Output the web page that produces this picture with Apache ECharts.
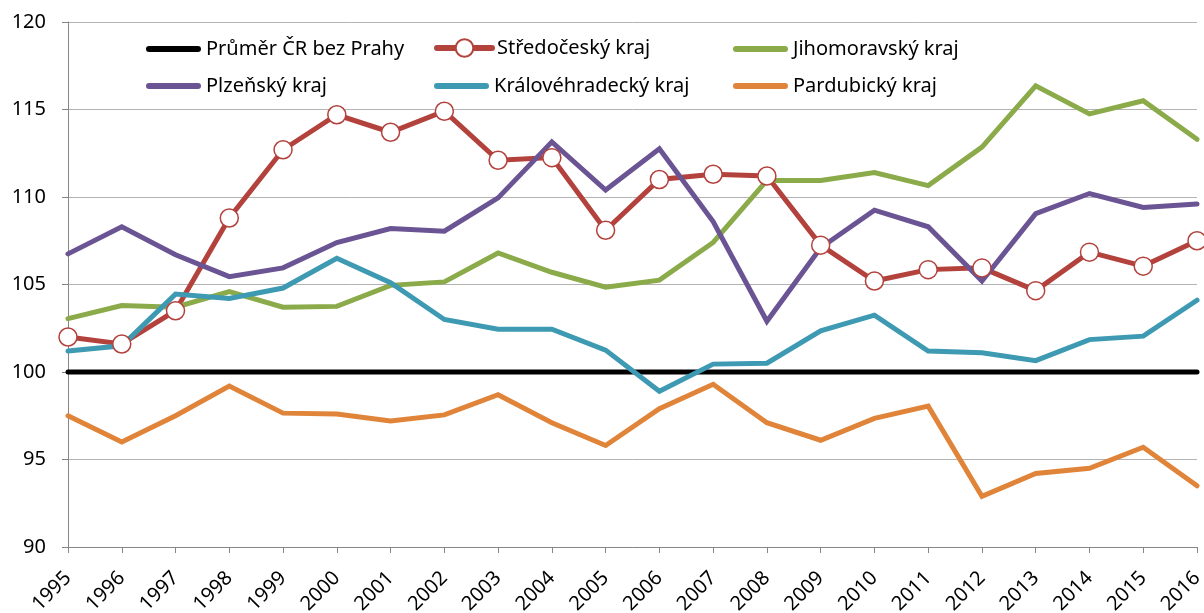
<!DOCTYPE html>
<html>
<head>
<meta charset="utf-8">
<script src="https://cdn.jsdelivr.net/npm/echarts@6/dist/echarts.min.js"></script>
<style>
html,body{margin:0;padding:0;background:#fff;}
#chart{width:1204px;height:613px;}
</style>
</head>
<body>
<div id="chart"></div>
<script>
const years = ['1995','1996','1997','1998','1999','2000','2001','2002','2003','2004','2005','2006','2007','2008','2009','2010','2011','2012','2013','2014','2015','2016'];
const yTicks = [90, 95, 100, 105, 110, 115, 120];

const prumer = [100,100,100,100,100,100,100,100,100,100,100,100,100,100,100,100,100,100,100,100,100,100];
const stredocesky = [102.0,101.6,103.5,108.8,112.7,114.7,113.7,114.9,112.1,112.25,108.1,111.0,111.3,111.2,107.25,105.2,105.85,105.95,104.65,106.85,106.05,107.5];
const jihomoravsky = [103.05,103.8,103.7,104.6,103.7,103.75,104.95,105.15,106.8,105.7,104.85,105.25,107.4,110.95,110.95,111.4,110.65,112.85,116.35,114.75,115.5,113.3];
const plzensky = [106.75,108.3,106.7,105.45,105.95,107.4,108.2,108.05,109.95,113.15,110.4,112.75,108.6,102.9,107.1,109.25,108.3,105.2,109.05,110.2,109.4,109.6];
const kralovehradecky = [101.2,101.5,104.45,104.2,104.8,106.5,105.1,103.0,102.45,102.45,101.25,98.9,100.45,100.5,102.35,103.25,101.2,101.1,100.65,101.85,102.05,104.1];
const pardubicky = [97.5,96.0,97.5,99.2,97.65,97.6,97.2,97.55,98.7,97.1,95.8,97.9,99.3,97.1,96.1,97.35,98.05,92.9,94.2,94.5,95.7,93.5];

const names = ['Průměr ČR bez Prahy','Středočeský kraj','Jihomoravský kraj','Plzeňský kraj','Královéhradecký kraj','Pardubický kraj'];
const colors = ['#000000','#B3423D','#8BAA49','#6A5493','#3D9AB2','#E0843A'];
const datasets = [prumer, stredocesky, jihomoravsky, plzensky, kralovehradecky, pardubicky];

const FONT = 'Noto Sans';
const legendPos = [[146,49],[434,49],[733,49],[146,86],[434,86],[733,86]];
// thick rounded line in the middle of a 55x22 box (degenerate corner points fix the box)
const LINE_ICON = 'path://M0,0 L0.01,0 L0,0.01 Z M3,8 L52,8 A3,3 0 0 1 52,14 L3,14 A3,3 0 0 1 3,8 Z M55,22 L54.99,22 L55,21.99 Z';

const chart = echarts.init(document.getElementById('chart'), null, {renderer:'canvas'});

const series = datasets.map((d,i)=>({
  name: names[i],
  type: 'line',
  data: d,
  symbol: i===1 ? 'circle' : 'none',
  symbolSize: 18,
  showSymbol: i===1,
  itemStyle: {color: i===1 ? '#ffffff' : colors[i], borderColor: colors[i], borderWidth: 1.5},
  lineStyle: {color: colors[i], width: 5, cap: 'round', join: 'miter'},
  color: colors[i],
  animation: false,
  silent: true
}));

const legends = names.map((n,i)=>{
  const marker = i===1;
  return {
    data: [marker ? {name: n} : {name: n, icon: LINE_ICON, itemStyle: {color: colors[i], borderWidth: 0}}],
    left: legendPos[i][0],
    top: legendPos[i][1] - 11,
    padding: 0,
    itemWidth: 55,
    itemHeight: 22,
    itemGap: 0,
    selectedMode: false,
    textStyle: {fontFamily: FONT, fontSize: 20, color: '#000'},
    lineStyle: {width: 6, cap: 'round'}
  };
});

chart.setOption({
  animation: false,
  backgroundColor: '#ffffff',
  legend: legends,
  grid: {left: 68, right: 7, top: 22, bottom: 66, containLabel: false, outerBoundsMode: 'none'},
  xAxis: {
    type: 'category',
    data: years,
    boundaryGap: false,
    axisLine: {lineStyle: {color: '#868686', width: 1}},
    axisTick: {show: true, alignWithLabel: true, length: 6, lineStyle: {color: '#868686'}},
    axisLabel: {rotate: 45, interval: 0, margin: 28, fontFamily: FONT, fontSize: 20, color: '#000'},
    splitLine: {show: false}
  },
  yAxis: {
    type: 'value',
    min: yTicks[0],
    max: yTicks[yTicks.length-1],
    interval: 5,
    axisLine: {show: true, lineStyle: {color: '#868686', width: 1}},
    axisTick: {show: true, length: 6, inside: false, lineStyle: {color: '#868686'}},
    axisLabel: {margin: 22, fontFamily: FONT, fontSize: 20, color: '#000'},
    splitLine: {show: true, lineStyle: {color: '#B3B3B3', width: 1}}
  },
  series: series
});
</script>
</body>
</html>
